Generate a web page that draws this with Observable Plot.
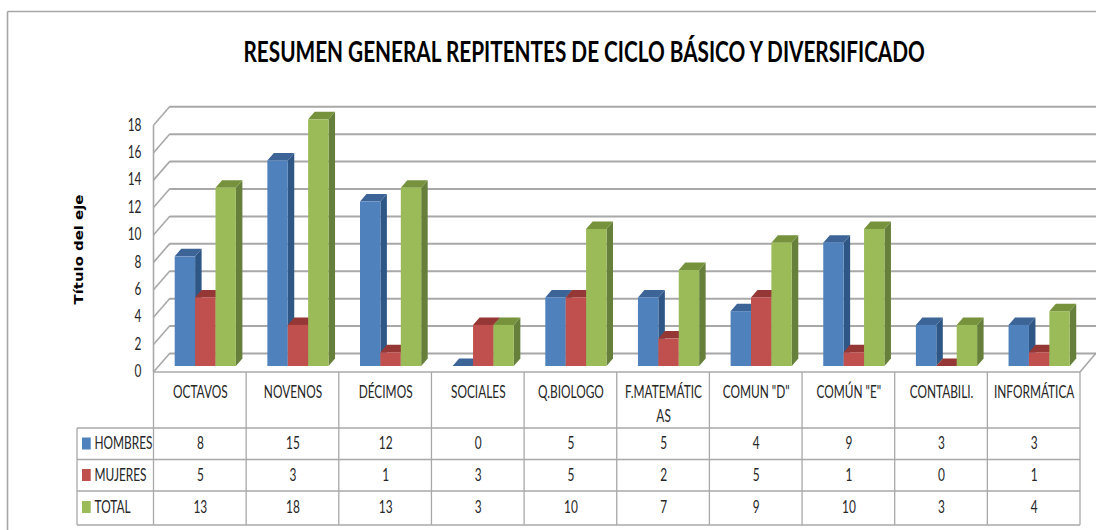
<!DOCTYPE html>
<html>
<head>
<meta charset="utf-8">
<script src="https://cdn.jsdelivr.net/npm/d3@7"></script>
<script src="https://cdn.jsdelivr.net/npm/@observablehq/plot@0.6"></script>
<style>
  html, body { margin: 0; padding: 0; background: #fff; }
  svg { display: block; }
</style>
</head>
<body>
<div id="chart"></div>
<script>
const categories = ["OCTAVOS", "NOVENOS", "DÉCIMOS", "SOCIALES", "Q.BIOLOGO", "F.MATEMÁTICAS", 'COMUN "D"', 'COMÚN "E"', "CONTABILI.", "INFORMÁTICA"];
const categoryLabels = ["OCTAVOS", "NOVENOS", "DÉCIMOS", "SOCIALES", "Q.BIOLOGO", "F.MATEMÁTIC\nAS", 'COMUN "D"', 'COMÚN "E"', "CONTABILI.", "INFORMÁTICA"];
const hombres = [8, 15, 12, 0, 5, 5, 4, 9, 3, 3];
const mujeres = [5, 3, 1, 3, 5, 2, 5, 1, 0, 1];
const total = [13, 18, 13, 3, 10, 7, 9, 10, 3, 4];
const yTicks = [0, 2, 4, 6, 8, 10, 12, 14, 16, 18];
const seriesNames = ["HOMBRES", "MUJERES", "TOTAL"];
const seriesValues = [hombres, mujeres, total];
const seriesColors = [
  {front: "#4f81bd", top: "#3c6497", side: "#2f5785"},
  {front: "#c0504d", top: "#953735", side: "#8c3836"},
  {front: "#9bbb59", top: "#76923c", side: "#66803b"}
];
const chartTitle = "RESUMEN GENERAL REPITENTES DE CICLO BÁSICO Y DIVERSIFICADO";
const axisTitle = "Título del eje";

const GRID = "#a8a8a8";
const INK = "#262626";
const FONT = "Lato, 'Liberation Sans', sans-serif";
const LEFT = 153.5, RIGHT = 1080;
const barStart = 21.2, barW = 20.4, depthX = 6.5, depthY = 7.5;
const wallFrontDy = 6, wallBackDy = -13, wallBackX = 170;
const rowLines = [372, 428, 459.5, 491, 525];
const rowCenters = [443.5, 475, 507];
const tableLeft = 77;
const textSize = 16.5, squeeze = 0.72;

const rows = seriesValues.map(vals => categories.map((c, i) => ({cat: c, v: vals[i]})));

// Walls: left-wall diagonals, front vertical, floor outline
function walls(index, {x, y}) {
  const g = d3.create("svg:g").attr("fill", "none").attr("stroke", GRID).attr("stroke-width", 1.6);
  for (const t of yTicks) {
    g.append("line").attr("x1", LEFT).attr("y1", y(t) + wallFrontDy)
      .attr("x2", wallBackX).attr("y2", y(t) + wallBackDy);
  }
  g.append("line").attr("x1", LEFT).attr("x2", LEFT).attr("y1", y(18) + wallFrontDy).attr("y2", y(0) + wallFrontDy);
  g.append("line").attr("x1", RIGHT).attr("y1", y(0) + wallFrontDy).attr("x2", 1096).attr("y2", y(0) + wallBackDy);
  g.append("line").attr("x1", LEFT).attr("x2", RIGHT).attr("y1", y(0) + wallFrontDy).attr("y2", y(0) + wallFrontDy);
  return g.node();
}

// Side and top faces of the 3D bars of one series
function faces(s) {
  return (index, {x, y}) => {
    const g = d3.create("svg:g");
    rows[s].forEach(d => {
      const x0 = x(d.cat) + barStart + barW * s, x1 = x0 + barW;
      const yt = y(d.v), yb = y(0);
      g.append("polygon").attr("fill", seriesColors[s].side)
        .attr("points", [[x1, yt], [x1 + depthX, yt - depthY], [x1 + depthX, yb - depthY], [x1, yb]].join(" "));
      g.append("polygon").attr("fill", seriesColors[s].top)
        .attr("points", [[x0, yt], [x1, yt], [x1 + depthX, yt - depthY], [x0 + depthX, yt - depthY]].join(" "));
    });
    return g.node();
  };
}

// Data-table lines and legend keys
function tableGrid(index, {x}) {
  const g = d3.create("svg:g").attr("stroke", GRID).attr("stroke-width", 1.3).attr("fill", "none");
  categories.forEach(c => {
    g.append("line").attr("x1", x(c)).attr("x2", x(c)).attr("y1", rowLines[0]).attr("y2", rowLines[4]);
  });
  g.append("line").attr("x1", RIGHT).attr("x2", RIGHT).attr("y1", rowLines[0]).attr("y2", rowLines[4]);
  g.append("line").attr("x1", tableLeft).attr("x2", tableLeft).attr("y1", rowLines[1]).attr("y2", rowLines[4]);
  rowLines.slice(1).forEach(r => {
    g.append("line").attr("x1", tableLeft).attr("x2", RIGHT).attr("y1", r).attr("y2", r);
  });
  seriesColors.forEach((col, i) => {
    g.append("rect").attr("x", 82).attr("y", rowCenters[i] - 6).attr("width", 8.7).attr("height", 12)
      .attr("fill", col.front).attr("stroke", "none");
  });
  return g.node();
}

// Outer chart border (top and left edges)
function border() {
  const g = d3.create("svg:g").attr("stroke", "#a6a6a6").attr("stroke-width", 1.6);
  g.append("line").attr("x1", 7.5).attr("x2", 1096).attr("y1", 11.5).attr("y2", 11.5);
  g.append("line").attr("x1", 7.5).attr("x2", 7.5).attr("y1", 11.5).attr("y2", 530);
  return g.node();
}

const cellText = {frameAnchor: "top", lineAnchor: "middle", fill: INK, fontSize: textSize};

const marks = [
  border,
  Plot.ruleY(yTicks, {y: d => d, dy: wallBackDy, stroke: GRID, strokeWidth: 2}),
  walls,
  Plot.axisY({ticks: yTicks, tickSize: 0, tickPadding: 0, dx: -29, dy: 5.5, label: null, fontSize: textSize, fill: INK}),
  Plot.text([chartTitle], {
    frameAnchor: "top-left", dx: 243 - 170, dy: 53, lineAnchor: "middle", textAnchor: "start",
    fontSize: 28, fontWeight: "bold", fill: "#000"
  }),
  Plot.text([axisTitle], {
    frameAnchor: "left", textAnchor: "middle", dx: 79 - 170, dy: -16, rotate: -90,
    fontFamily: "'DejaVu Sans'", fontSize: 12, fontWeight: "bold", fill: "#000"
  })
];

seriesColors.forEach((col, s) => {
  marks.push(faces(s));
  marks.push(Plot.barY(rows[s], {
    x: "cat", y: "v", fill: col.front,
    insetLeft: barStart + barW * s,
    insetRight: (RIGHT - LEFT) / categories.length - barStart - barW * (s + 1)
  }));
});

marks.push(tableGrid);
marks.push(Plot.text(categoryLabels, {
  x: (d, i) => categories[i], text: d => d, frameAnchor: "top", lineAnchor: "top", dy: 381, lineHeight: 1.42,
  fill: INK, fontSize: textSize
}));
seriesNames.forEach((name, s) => {
  marks.push(Plot.text([name], {frameAnchor: "top-left", dx: 94 - 170, dy: rowCenters[s], lineAnchor: "middle", textAnchor: "start", fill: INK, fontSize: textSize}));
  marks.push(Plot.text(rows[s], {x: "cat", text: d => String(d.v), dy: rowCenters[s], ...cellText}));
});

const plot = Plot.plot({
  width: 1096,
  height: 530,
  marginLeft: 170,
  marginRight: 0,
  marginTop: 0,
  marginBottom: 0,
  style: {fontFamily: FONT, background: "#fff", overflow: "visible"},
  x: {type: "band", domain: categories, range: [LEFT, RIGHT], padding: 0, round: false, axis: null},
  y: {domain: [0, 18], range: [366, 119.3], axis: null},
  marks
});
document.getElementById("chart").appendChild(plot);

// The reference's face is a condensed one: narrow the real text horizontally
const exactWidths = new Map([[chartTitle, 682], [axisTitle, 110]]);
plot.querySelectorAll("text").forEach(t => {
  const target = exactWidths.get(t.textContent);
  const s = target ? target / t.getComputedTextLength() : squeeze;
  t.setAttribute("transform", `${t.getAttribute("transform") ?? ""} scale(${s},1)`.trim());
});
</script>
</body>
</html>
